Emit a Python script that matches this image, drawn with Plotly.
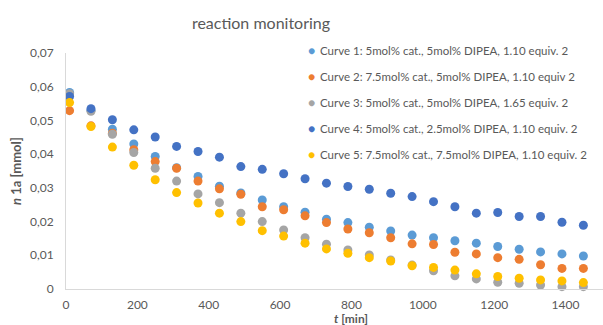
import plotly.graph_objects as go

t_min = [10, 70, 130, 190, 250, 310, 370, 430, 490, 550, 610, 670, 730, 790,
         850, 910, 970, 1030, 1090, 1150, 1210, 1270, 1330, 1390, 1450]

curve1 = [0.0583, 0.0530, 0.0474, 0.0430, 0.0393, 0.0360, 0.0334, 0.0305, 0.0285, 0.0264,
          0.0244, 0.0228, 0.0207, 0.0197, 0.0183, 0.0172, 0.0160, 0.0152, 0.0143, 0.0136,
          0.0126, 0.0118, 0.0110, 0.0104, 0.0098]
curve2 = [0.0529, 0.0484, 0.0462, 0.0413, 0.0378, 0.0358, 0.0320, 0.0297, 0.0281, 0.0244,
          0.0235, 0.0217, 0.0197, 0.0178, 0.0167, 0.0152, 0.0134, 0.0132, 0.0109, 0.0104,
          0.0093, 0.0088, 0.0072, 0.0061, 0.0061]
curve3 = [0.0579, 0.0527, 0.0459, 0.0405, 0.0358, 0.0320, 0.0282, 0.0256, 0.0225, 0.0200,
          0.0175, 0.0152, 0.0133, 0.0116, 0.0101, 0.0086, 0.0071, 0.0054, 0.0039, 0.0030,
          0.0020, 0.0017, 0.0012, 0.0007, 0.0007]
curve4 = [0.0571, 0.0535, 0.0502, 0.0472, 0.0451, 0.0423, 0.0408, 0.0391, 0.0363, 0.0355,
          0.0342, 0.0327, 0.0314, 0.0304, 0.0296, 0.0284, 0.0274, 0.0259, 0.0244, 0.0225,
          0.0227, 0.0215, 0.0215, 0.0198, 0.0189]
curve5 = [0.0553, 0.0482, 0.0421, 0.0367, 0.0324, 0.0286, 0.0255, 0.0225, 0.0200, 0.0173,
          0.0157, 0.0136, 0.0119, 0.0106, 0.0093, 0.0083, 0.0069, 0.0064, 0.0056, 0.0045,
          0.0037, 0.0032, 0.0027, 0.0024, 0.0019]

series_names = [
    "Curve 1: 5mol% cat., 5mol% DIPEA, 1.10 equiv. 2",
    "Curve 2: 7.5mol% cat., 5mol% DIPEA, 1.10 equiv 2",
    "Curve 3: 5mol% cat., 5mol% DIPEA, 1.65 equiv. 2",
    "Curve 4: 5mol% cat., 2.5mol% DIPEA, 1.10 equiv. 2",
    "Curve 5: 7.5mol% cat., 7.5mol% DIPEA, 1.10 equiv. 2",
]
series_values = [curve1, curve2, curve3, curve4, curve5]
series_colors = ["#5B9BD5", "#ED7D31", "#A5A5A5", "#4472C4", "#FFC000"]

x_ticks = [0, 200, 400, 600, 800, 1000, 1200, 1400]
y_ticks = [0, 0.01, 0.02, 0.03, 0.04, 0.05, 0.06, 0.07]
y_tick_labels = ["0", "0,01", "0,02", "0,03", "0,04", "0,05", "0,06", "0,07"]

FONT = "Lato, 'Open Sans', sans-serif"
GREY = "#595959"

W, H = 603, 325
ML, MR, MT, MB = 66, 0, 53, 36
PW, PH = W - ML - MR, H - MT - MB

fig = go.Figure()
for name, vals, col in zip(series_names, series_values, series_colors):
    fig.add_trace(go.Scatter(
        x=t_min, y=vals, mode="markers", name=name,
        marker=dict(color=col, size=9, line=dict(width=0)),
        cliponaxis=False, showlegend=False,
    ))

def px_x(px):
    return (px - ML) / PW

def px_y(py):
    return (H - MB - py) / PH

annotations = []
legend_rows = [50, 76, 102, 128, 154]
for name, col, py in zip(series_names, series_colors, legend_rows):
    annotations.append(dict(
        x=px_x(311.5), y=px_y(py), xref="paper", yref="paper",
        text="●", showarrow=False, xanchor="center", yanchor="middle",
        font=dict(family=FONT, size=12, color=col)))
    annotations.append(dict(
        x=px_x(318), y=px_y(py), xref="paper", yref="paper",
        text=name, showarrow=False, xanchor="left", yanchor="middle",
        font=dict(family=FONT, size=11.5, color=GREY)))

annotations.append(dict(
    x=px_x(351), y=px_y(318), xref="paper", yref="paper",
    text="<b><i>t</i> [min]</b>", showarrow=False, xanchor="center", yanchor="middle",
    font=dict(family=FONT, size=12, color=GREY)))
annotations.append(dict(
    x=px_x(16), y=px_y(171), xref="paper", yref="paper",
    text="<b><i>n</i> 1a [mmol]</b>", showarrow=False, xanchor="center", yanchor="middle",
    textangle=-90, font=dict(family=FONT, size=13, color=GREY)))

fig.update_layout(
    width=W, height=H,
    margin=dict(l=ML, r=MR, t=MT, b=MB, pad=0),
    paper_bgcolor="white", plot_bgcolor="white",
    title=dict(text="reaction monitoring", x=261 / W, y=1 - 23 / H,
               xref="container", yref="container", xanchor="center", yanchor="middle",
               font=dict(family=FONT, size=16, color=GREY)),
    xaxis=dict(range=[0, 1505], tickvals=x_ticks, showgrid=False, zeroline=False,
               showline=True, linecolor="#D9D9D9", linewidth=1, automargin=False,
               ticks="outside", ticklen=5, tickcolor="rgba(0,0,0,0)",
               tickfont=dict(family=FONT, size=12, color=GREY)),
    yaxis=dict(range=[0, 0.07], tickvals=y_ticks, ticktext=y_tick_labels,
               showgrid=False, zeroline=False, automargin=False,
               showline=True, linecolor="#D9D9D9", linewidth=1,
               ticks="outside", ticklen=9, tickcolor="rgba(0,0,0,0)",
               tickfont=dict(family=FONT, size=12, color=GREY)),
    annotations=annotations,
    showlegend=False,
)

fig.write_html(
    "out.html",
    config={"displayModeBar": False},
    post_script="document.body.style.margin='0';document.body.style.overflow='hidden';",
)
